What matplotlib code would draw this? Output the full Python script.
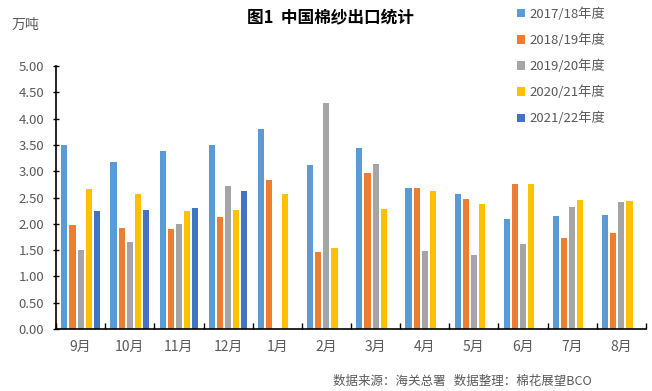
import numpy as np
import matplotlib
matplotlib.use('Agg')
import matplotlib.pyplot as plt

plt.rcParams['font.family'] = ['Noto Sans CJK SC', 'DejaVu Sans']

months = ['9月', '10月', '11月', '12月', '1月', '2月', '3月', '4月', '5月', '6月', '7月', '8月']
seasons = ['2017/18年度', '2018/19年度', '2019/20年度', '2020/21年度', '2021/22年度']
colors = ['#5B9BD5', '#ED7D31', '#A5A5A5', '#FFC000', '#4472C4']

# 万吨, NaN = no data
v1718 = [3.50, 3.17, 3.38, 3.50, 3.80, 3.12, 3.44, 2.68, 2.57, 2.09, 2.15, 2.17]
v1819 = [1.98, 1.92, 1.90, 2.13, 2.83, 1.46, 2.97, 2.68, 2.47, 2.76, 1.73, 1.82]
v1920 = [1.50, 1.65, 2.00, 2.72, np.nan, 4.30, 3.14, 1.48, 1.41, 1.62, 2.32, 2.41]
v2021 = [2.66, 2.57, 2.24, 2.26, 2.57, 1.54, 2.28, 2.62, 2.38, 2.76, 2.45, 2.43]
v2122 = [2.24, 2.26, 2.30, 2.62, np.nan, np.nan, np.nan, np.nan, np.nan, np.nan, np.nan, np.nan]
series = [v1718, v1819, v1920, v2021, v2122]

fig = plt.figure(figsize=(6.52, 3.91), dpi=100)
ax = fig.add_axes([56 / 652, 1 - 329 / 391, 590 / 652, 263 / 391])

x = np.arange(len(months))
step = 0.165
width = 0.125
for i, (vals, lab, c) in enumerate(zip(series, seasons, colors)):
    ax.bar(x + (i - 2) * step, vals, width=width, color=c, label=lab, zorder=2)

ax.set_xlim(-0.5, len(months) - 0.5)
ax.set_ylim(0, 5)
ax.set_yticks(np.arange(0, 5.01, 0.5))
ax.set_yticklabels(['%.2f' % t for t in np.arange(0, 5.01, 0.5)])
ax.set_xticks(x)
ax.set_xticklabels(months)
ax.set_xticks(np.arange(-0.5, len(months)), minor=True)

for s in ['top', 'right']:
    ax.spines[s].set_visible(False)
ax.spines['left'].set_linewidth(1.2)
ax.spines['bottom'].set_linewidth(1.2)

ax.tick_params(axis='y', direction='inout', length=5, width=1, labelsize=9.5,
               labelcolor='#595959', pad=6)
ax.tick_params(axis='x', which='major', length=0, labelsize=10, labelcolor='#595959', pad=8)
ax.tick_params(axis='x', which='minor', direction='in', length=4, width=1)

fig.text(12 / 652, 1 - 25 / 391, '万吨', fontsize=10, color='#595959', va='center')
fig.text(330 / 652, 1 - 18 / 391, '图1  中国棉纱出口统计', fontsize=12, fontweight='bold',
         ha='center', va='center', color='black')
fig.text(592 / 652, 1 - 381 / 391, '数据来源：海关总署   数据整理：棉花展望BCO',
         fontsize=9, color='#595959', ha='right', va='center')

leg = fig.legend(loc='upper left', bbox_to_anchor=(512 / 652, 1 - 2 / 391), frameon=False,
                 handlelength=0.6, handleheight=0.6, handletextpad=0.3,
                 labelspacing=0.95, fontsize=9.5, borderaxespad=0)
for t in leg.get_texts():
    t.set_color('#595959')

fig.savefig('out.png', dpi=100)
